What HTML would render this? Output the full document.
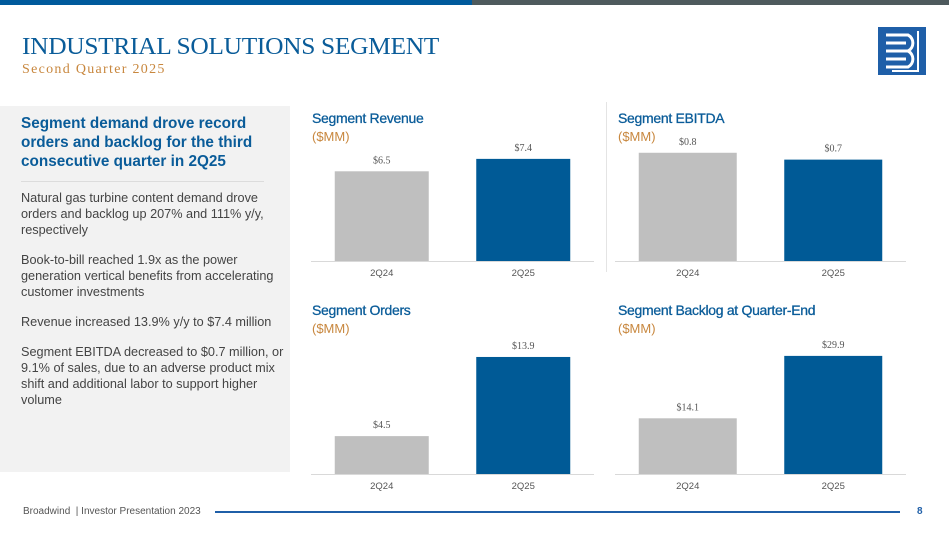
<!DOCTYPE html>
<html><head><meta charset="utf-8"><style>
body{margin:0;width:949px;height:534px;position:relative;background:#fff;font-family:"Liberation Sans",sans-serif;overflow:hidden}
.abs{position:absolute}
.ct{font-size:14px;color:#0a5c99;letter-spacing:-0.3px;-webkit-text-stroke:0.3px #0a5c99}
.mm{font-size:13px;color:#c8873e;}
.lp p{margin:0 0 14px 0;font-size:12.7px;line-height:16px;color:#444}
</style></head><body>
<div class="abs" style="left:0;top:0;width:472px;height:5px;background:#005a9c"></div>
<div class="abs" style="left:472px;top:0;width:477px;height:5px;background:#4e5a5d"></div>
<div class="abs" style="left:22px;top:34px;font-family:'Liberation Serif',serif;font-size:24px;color:#0a5c99;letter-spacing:-0.3px;transform:scaleX(1.06);transform-origin:left;white-space:nowrap">INDUSTRIAL SOLUTIONS SEGMENT</div>
<div class="abs" style="left:22px;top:62px;font-family:'Liberation Serif',serif;font-size:14px;color:#c8873e;letter-spacing:1.3px">Second Quarter 2025</div>
<svg class="abs" style="left:878px;top:27px" width="48" height="48" viewBox="0 0 48 48">
<rect x="0" y="0" width="48" height="48" fill="#1f5fa8"/>
<path d="M8 8H30a9 9 0 0 1 0 16a9 9 0 0 1 0 16H8M8 16H28M8 24H30M8 32H28" stroke="#fff" stroke-width="3" fill="none"/>
<path d="M40 4V44H14" stroke="#fff" stroke-width="2" fill="none"/>
</svg>
<div class="abs" style="left:0;top:106px;width:290px;height:366px;background:#f2f2f2"></div>
<div class="abs" style="left:21px;top:114px;width:265px;font-size:15.3px;font-weight:bold;line-height:19px;color:#0a5c99">Segment demand drove record orders and backlog for the third consecutive quarter in 2Q25</div>
<div class="abs" style="left:21px;top:181px;width:243px;height:1px;background:#dcdcdc"></div>
<div class="abs lp" style="left:21px;top:190px;width:272px">
<p>Natural gas turbine content demand drove orders and backlog up 207% and 111% y/y, respectively</p>
<p>Book-to-bill reached 1.9x as the power generation vertical benefits from accelerating customer investments</p>
<p>Revenue increased 13.9% y/y to $7.4 million</p>
<p>Segment EBITDA decreased to $0.7 million, or 9.1% of sales, due to an adverse product mix shift and additional labor to support higher volume</p>
</div>
<div class="abs ct" style="left:312px;top:110px">Segment Revenue</div>
<div class="abs mm" style="left:312px;top:129px">($MM)</div>
<div class="abs ct" style="left:618px;top:110px">Segment EBITDA</div>
<div class="abs mm" style="left:618px;top:129px">($MM)</div>
<div class="abs ct" style="left:312px;top:302px">Segment Orders</div>
<div class="abs mm" style="left:312px;top:321px">($MM)</div>
<div class="abs ct" style="left:618px;top:302px">Segment Backlog at Quarter-End</div>
<div class="abs mm" style="left:618px;top:321px">($MM)</div>
<div class="abs" style="left:606px;top:102px;width:1px;height:170px;background:#e4e4e4"></div>
<svg class="abs" id="charts" style="left:0;top:0" width="949" height="534"></svg>
<div class="abs" style="left:23px;top:506px;font-size:10px;color:#555">Broadwind &nbsp;| Investor Presentation 2023</div>
<div class="abs" style="left:215px;top:511px;width:685px;height:2px;background:#1f5fa8"></div>
<div class="abs" style="left:917px;top:506px;font-size:10px;color:#1f5fa8;font-weight:bold">8</div>
<script>
const categories=["2Q24","2Q25"];
const revenueValues=[6.5,7.4];
const revenueLabels=["$6.5","$7.4"];
const ebitdaValues=[0.79,0.74];
const ebitdaLabels=["$0.8","$0.7"];
const ordersValues=[4.5,13.9];
const ordersLabels=["$4.5","$13.9"];
const backlogValues=[14.1,29.9];
const backlogLabels=["$14.1","$29.9"];
const NS="http://www.w3.org/2000/svg";
const svg=document.getElementById('charts');
const colors=["#bfbfbf","#005a96"];
function draw(name,vals,labels,x0,x1,base,pxPerUnit,bw){
  const line=document.createElementNS(NS,'line');
  
  
  line.setAttribute('x1',x0);line.setAttribute('x2',x1);line.setAttribute('y1',base+0.5);line.setAttribute('y2',base+0.5);
  line.setAttribute('stroke','#d9d9d9');
  svg.appendChild(line);
  const step=(x1-x0)/vals.length;
  const y=v=>base-v*pxPerUnit;
  vals.forEach((v,i)=>{
    const cx=x0+step*(i+0.5);
    const r=document.createElementNS(NS,'rect');
    
    
    r.setAttribute('x',cx-bw/2);r.setAttribute('y',y(v));r.setAttribute('width',bw);r.setAttribute('height',base-y(v));
    r.setAttribute('fill',colors[i]);
    svg.appendChild(r);
    const t=document.createElementNS(NS,'text');
    
    
    t.setAttribute('x',cx);t.setAttribute('y',y(v)-8);t.setAttribute('text-anchor','middle');
    t.setAttribute('font-family','Liberation Serif, serif');t.setAttribute('font-size','10');t.setAttribute('fill','#555');
    t.textContent=labels[i];svg.appendChild(t);
    const c=document.createElementNS(NS,'text');
    
    
    c.setAttribute('x',cx);c.setAttribute('y',base+15);c.setAttribute('text-anchor','middle');
    c.setAttribute('font-family','Liberation Sans, sans-serif');c.setAttribute('font-size','9.5');c.setAttribute('fill','#555');
    c.textContent=categories[i];svg.appendChild(c);
  });
}
draw('revenue',revenueValues,revenueLabels,311,594,261,13.8,94);
draw('ebitda',ebitdaValues,ebitdaLabels,615,906,261,137,98);
draw('orders',ordersValues,ordersLabels,311,594,474,8.42,94);
draw('backlog',backlogValues,backlogLabels,615,906,474,3.95,98);
</script>
</body></html>
